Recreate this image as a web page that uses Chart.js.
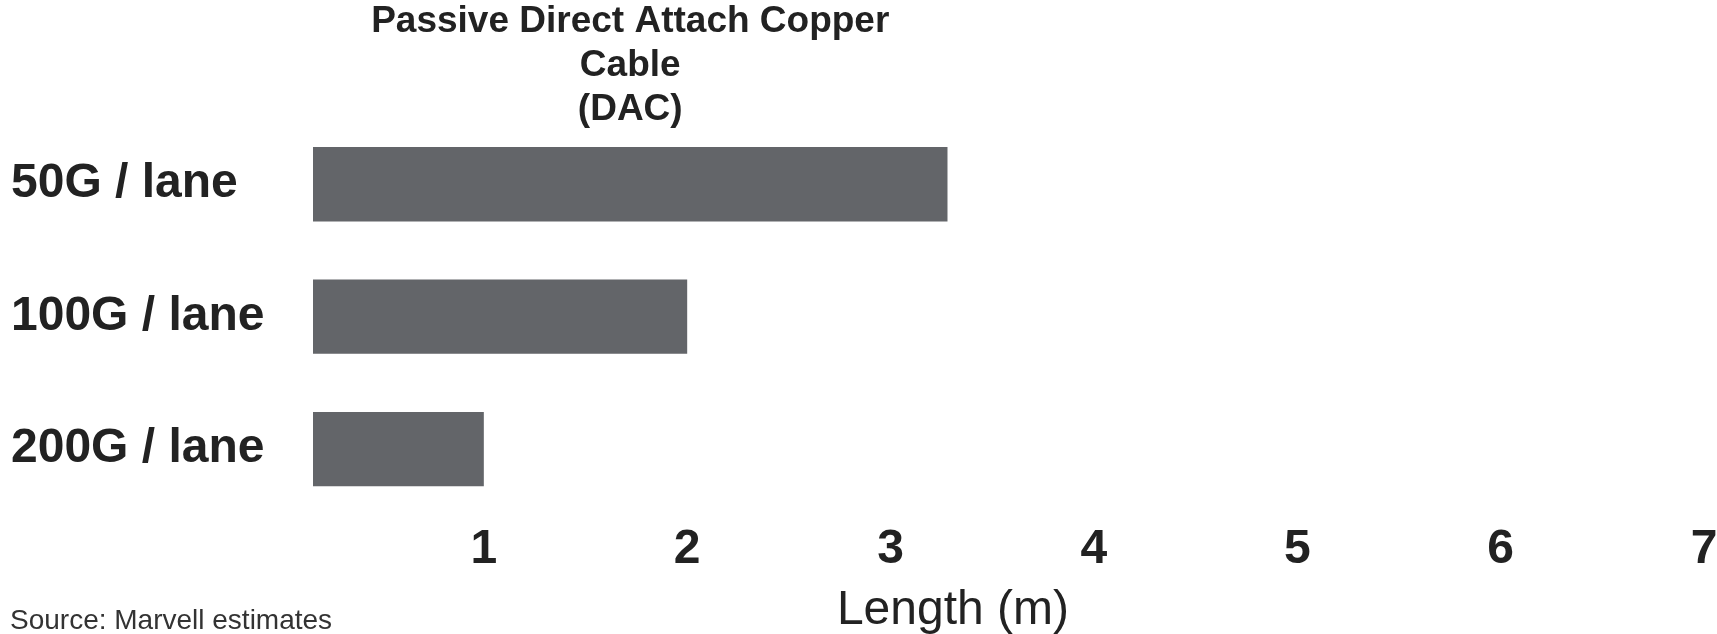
<!DOCTYPE html>
<html>
<head>
<meta charset="utf-8">
<title>Passive Direct Attach Copper Cable (DAC) reach</title>
<script src="https://cdn.jsdelivr.net/npm/chart.js@4/dist/chart.umd.min.js"></script>
<style>
  html, body { margin: 0; padding: 0; background: #ffffff; }
  #wrap { width: 1717px; height: 634px; }
</style>
</head>
<body>
<div id="wrap"><canvas id="chart" width="1717" height="634"></canvas></div>
<script>
// Lane speeds and the reach of a passive DAC at each speed (metres)
const laneSpeeds = ['50G / lane', '100G / lane', '200G / lane'];
const reachMetres = [3.28, 2, 1];
const lengthTicks = [1, 2, 3, 4, 5, 6, 7];
const titleLines = ['Passive Direct Attach Copper', 'Cable', '(DAC)'];
const axisTitle = 'Length (m)';
const sourceNote = 'Source: Marvell estimates';

const FONT = '"Liberation Sans", Arial, Helvetica, sans-serif';
const INK = '#222222';
const BAR = '#636569';

// Title centred over the longest bar, axis title and source note
const annotations = {
  id: 'annotations',
  afterDraw(chart) {
    const ctx = chart.ctx;
    const bar = chart.getDatasetMeta(0).data[0];
    const start = Math.max(bar.base, chart.chartArea.left);
    const cx = (bar.x + start) / 2;
    ctx.save();
    ctx.fillStyle = INK;
    ctx.textBaseline = 'alphabetic';
    ctx.textAlign = 'center';
    ctx.font = 'bold 37px ' + FONT;
    titleLines.forEach((line, i) => ctx.fillText(line, cx, 32 + i * 44));

    ctx.font = '48px ' + FONT;
    ctx.fillText(axisTitle, chart.width * 0.555, 624);

    ctx.textAlign = 'left';
    ctx.font = '28px ' + FONT;
    ctx.fillStyle = '#333333';
    ctx.fillText(sourceNote, 10, 629);
    ctx.restore();
  }
};

new Chart(document.getElementById('chart'), {
  type: 'bar',
  data: {
    labels: laneSpeeds,
    datasets: [{
      data: reachMetres,
      backgroundColor: BAR,
      borderWidth: 0,
      barPercentage: 0.561,
      categoryPercentage: 1
    }]
  },
  options: {
    indexAxis: 'y',
    responsive: false,
    devicePixelRatio: 1,
    animation: false,
    layout: { padding: { top: 118, bottom: 49, left: 11, right: 13 } },
    plugins: {
      legend: { display: false },
      tooltip: { enabled: false },
      title: { display: false }
    },
    scales: {
      x: {
        type: 'linear',
        min: 0.16,
        max: 7,
        grid: { display: false, drawTicks: false, tickLength: 0 },
        border: { display: false },
        afterBuildTicks(scale) {
          scale.ticks = lengthTicks.map(v => ({ value: v }));
        },
        afterFit(scale) {
          // the right layout padding already leaves room for the last label
          scale.paddingRight = 0;
        },
        ticks: {
          padding: 6,
          autoSkip: false,
          maxRotation: 0,
          color: INK,
          font: { family: FONT, size: 48, weight: 'bold' }
        }
      },
      y: {
        grid: { display: false, drawTicks: false, tickLength: 0 },
        border: { display: false },
        afterFit(scale) { scale.width = 302; },
        ticks: {
          crossAlign: 'far',
          padding: 0,
          color: INK,
          font: { family: FONT, size: 48, weight: 'bold' }
        }
      }
    }
  },
  plugins: [annotations]
});
</script>
</body>
</html>
